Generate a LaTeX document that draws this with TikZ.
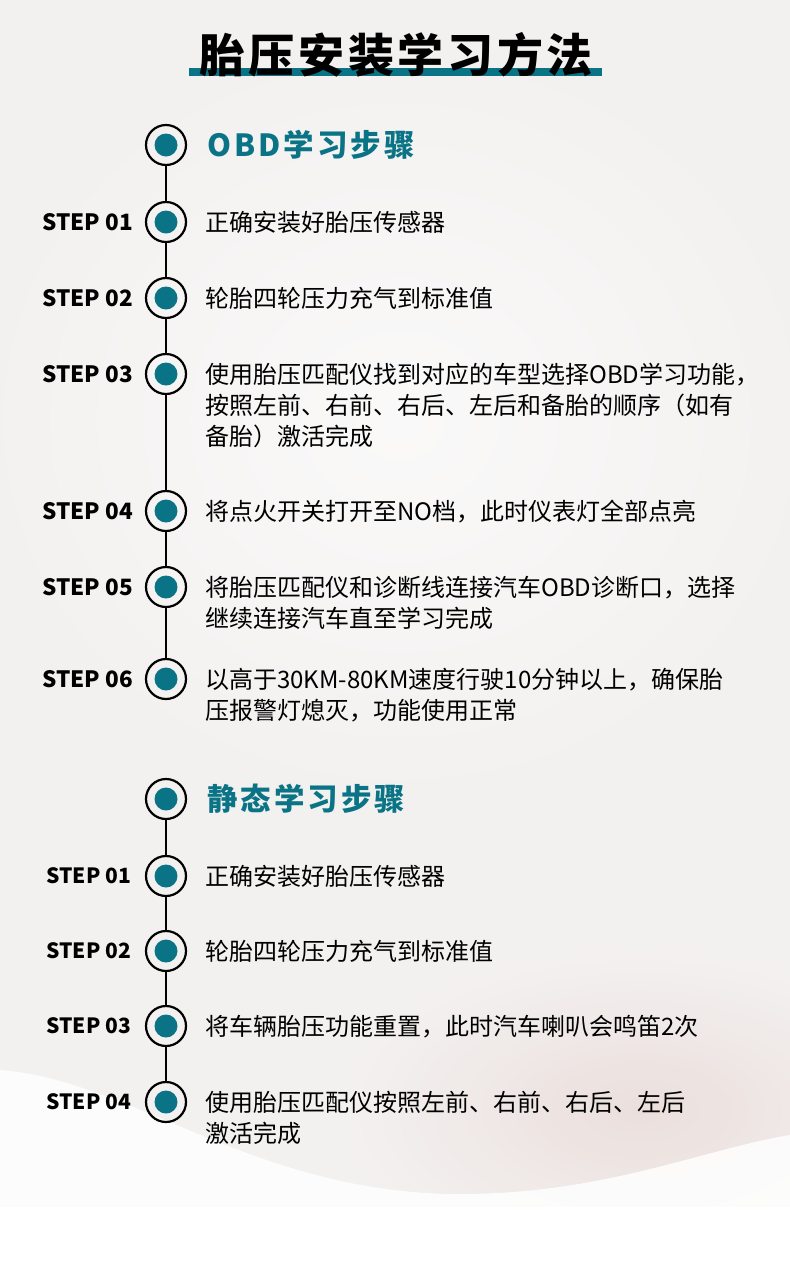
\documentclass[tikz,border=0pt]{standalone}
\usepackage{fontspec}
\setmainfont{Noto Sans CJK SC}
\usetikzlibrary{positioning}

\definecolor{tealmain}{HTML}{0A7486}
\definecolor{bggrey}{HTML}{F3F1F0}
\definecolor{bgpink}{HTML}{EBDFDC}

% 多行文字：基线对齐第一行
\newcommand{\steplines}[1]{\parbox[t]{570pt}{\raggedright #1}}

\tikzset{
  ring/.style={circle, draw=black, line width=2.2pt, minimum size=40pt, inner sep=0pt},
  dot/.style={circle, fill=tealmain, minimum size=23pt, inner sep=0pt},
  stepname/.style={anchor=east, inner sep=0pt, font=\bfseries\fontsize{22.5}{26}\selectfont},
  stepname2/.style={anchor=east, inner sep=0pt, font=\bfseries\fontsize{21}{24}\selectfont},
  steptext/.style={anchor=base west, inner sep=0pt, font=\fontsize{24}{31}\selectfont},
  headtext/.style={anchor=base west, inner sep=0pt, text=tealmain, font=\bfseries\addfontfeature{LetterSpace=10}\fontsize{30.5}{34}\selectfont},
  link/.style={line width=2.2pt}
}

\begin{document}
\begin{tikzpicture}[x=1pt, y=-1pt]

    % 背景
    \useasboundingbox (0,0) rectangle (790,1262);
    \fill[bggrey] (0,0) rectangle (790,1207);
    \shade[inner color=white!60!bggrey, outer color=bggrey] (400,420) ellipse (420 and 380);
    \shade[inner color=bgpink, outer color=bggrey] (640,1110) ellipse (300 and 160);
    \fill[white, opacity=0.85] (0,1070) .. controls (130,1080) and (250,1190) .. (450,1194)
      .. controls (600,1196) and (700,1150) .. (790,1135) -- (790,1207) -- (0,1207) -- cycle;
    \fill[white] (0,1207) rectangle (790,1262);

    % 标题
    \fill[tealmain] (189,68) rectangle (602,76);
    \node[anchor=base, inner sep=0pt, font=\bfseries\addfontfeature{LetterSpace=8}\fontsize{46}{50}\selectfont]
      (title) at (396,72) {胎压安装学习方法};

    % OBD学习步骤
    \node[ring] (h1) at (166,145) {};
    \node[ring] (s1) at (166,222) {};
    \node[ring] (s2) at (166,298) {};
    \node[ring] (s3) at (166,374) {};
    \node[ring] (s4) at (166,511) {};
    \node[ring] (s5) at (166,587) {};
    \node[ring] (s6) at (166,679) {};
    \draw[link] (h1) -- (s1) (s1) -- (s2) (s2) -- (s3) (s3) -- (s4) (s4) -- (s5) (s5) -- (s6);
    \foreach \n in {h1,s1,s2,s3,s4,s5,s6}
      \node[dot] at (\n) {};

    \node[headtext] (head1) at (207,156) {OBD学习步骤};

    \node[stepname] (l1) at (133,222) {STEP 01};
    \node[stepname] (l2) at (133,298) {STEP 02};
    \node[stepname] (l3) at (133,374) {STEP 03};
    \node[stepname] (l4) at (133,511) {STEP 04};
    \node[stepname] (l5) at (133,587) {STEP 05};
    \node[stepname] (l6) at (133,679) {STEP 06};

    \node[steptext] (t1) at (205,231) {正确安装好胎压传感器};
    \node[steptext] (t2) at (205,307) {轮胎四轮压力充气到标准值};
    \node[steptext] (t3) at (205,383) {\steplines{使用胎压匹配仪找到对应的车型选择OBD学习功能，\\按照左前、右前、右后、左后和备胎的顺序（如有\\备胎）激活完成}};
    \node[steptext] (t4) at (205,520) {将点火开关打开至NO档，此时仪表灯全部点亮};
    \node[steptext] (t5) at (205,596) {\steplines{将胎压匹配仪和诊断线连接汽车OBD诊断口，选择\\继续连接汽车直至学习完成}};
    \node[steptext] (t6) at (205,688) {\steplines{以高于30KM-80KM速度行驶10分钟以上，确保胎\\压报警灯熄灭，功能使用正常}};

    % 静态学习步骤
    \node[ring] (h2) at (166,799) {};
    \node[ring] (r1) at (166,876) {};
    \node[ring] (r2) at (166,951) {};
    \node[ring] (r3) at (166,1026) {};
    \node[ring] (r4) at (166,1102) {};
    \draw[link] (h2) -- (r1) (r1) -- (r2) (r2) -- (r3) (r3) -- (r4);
    \foreach \n in {h2,r1,r2,r3,r4}
      \node[dot] at (\n) {};

    \node[headtext] (head2) at (207,810) {静态学习步骤};

    \node[stepname2] (m1) at (131,876) {STEP 01};
    \node[stepname2] (m2) at (131,951) {STEP 02};
    \node[stepname2] (m3) at (131,1026) {STEP 03};
    \node[stepname2] (m4) at (131,1102) {STEP 04};

    \node[steptext] (u1) at (205,885) {正确安装好胎压传感器};
    \node[steptext] (u2) at (205,960) {轮胎四轮压力充气到标准值};
    \node[steptext] (u3) at (205,1035) {将车辆胎压功能重置，此时汽车喇叭会鸣笛2次};
    \node[steptext] (u4) at (205,1111) {\steplines{使用胎压匹配仪按照左前、右前、右后、左后\\激活完成}};

  \end{tikzpicture}
\end{document}
